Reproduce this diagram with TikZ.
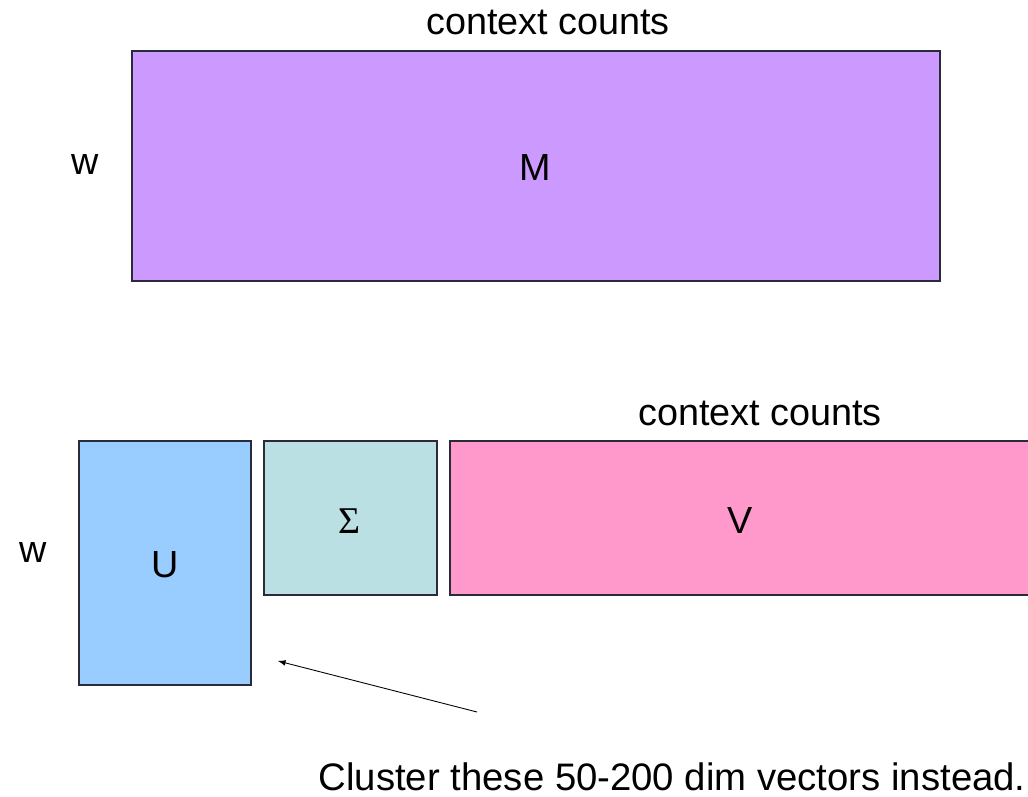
\documentclass[tikz,border=0pt]{standalone}
\usepackage{fontspec}
\setmainfont{Liberation Sans}
\newfontfamily\serifgreek{Liberation Serif}
\usepackage{tikz}

\definecolor{mcol}{HTML}{CC99FF}
\definecolor{ucol}{HTML}{99CCFF}
\definecolor{scol}{HTML}{BBE0E3}
\definecolor{vcol}{HTML}{FF99CC}
\definecolor{edgecol}{HTML}{2A2A3A}

\begin{document}
\begin{tikzpicture}[auto,
    matbox/.style={draw=edgecol, line width=0.6pt, inner sep=0pt},
    lbl/.style={font=\fontsize{21.5}{24}\selectfont, inner sep=0pt}]
    \useasboundingbox (0,0) rectangle (20.56,15.92);
    \node[matbox, fill=mcol, minimum width=16.16cm, minimum height=4.6cm] (M) at (10.72,12.6) {};
    \node[matbox, fill=ucol, minimum width=3.44cm, minimum height=4.88cm] (U) at (3.3,4.66) {};
    \node[matbox, fill=scol, minimum width=3.46cm, minimum height=3.08cm] (S) at (7.01,5.56) {};
    \node[matbox, fill=vcol, minimum width=12cm, minimum height=3.08cm] (V) at (15,5.56) {};
    \node[lbl] (mname) at (10.7,12.56) {M};
    \node[lbl] (ctop) at (10.96,15.48) {context counts};
    \node[lbl] (wtop) at (1.7,12.62) {w};
    \node[lbl] (cbot) at (15.2,7.66) {context counts};
    \node[lbl] (wbot) at (0.66,4.86) {w};
    \node[lbl] (ulab) at (3.3,4.62) {U};
    \node[lbl] (slab) at (6.98,5.5) {\serifgreek Σ};
    \node[lbl] (vlab) at (14.8,5.52) {V};
    \node[lbl, anchor=east, font=\fontsize{21.8}{24}\selectfont] (note) at (20.52,0.38) {Cluster these 50-200 dim vectors instead.};
    \coordinate (from) at (9.54,1.68);
    \coordinate (to) at (5.56,2.7);
    \draw[-latex, line width=0.5pt] (from)--(to);
\end{tikzpicture}
\end{document}
